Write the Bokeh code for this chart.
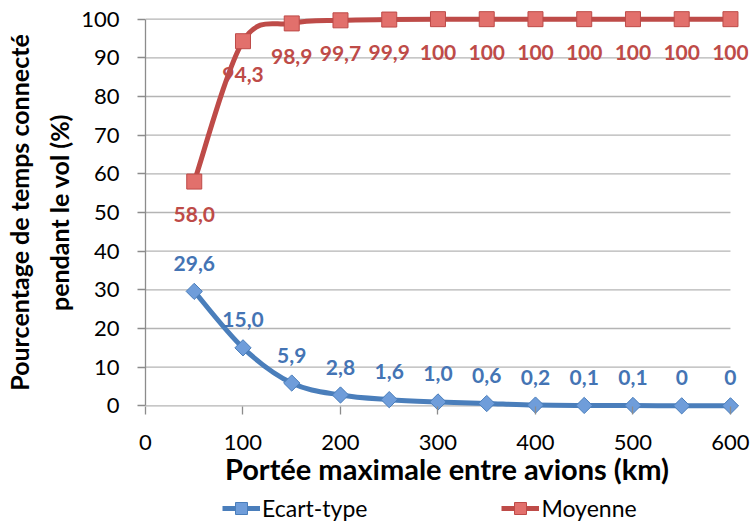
import math
from bokeh.plotting import figure
from bokeh.layouts import column
from bokeh.models import (Range1d, FixedTicker, ColumnDataSource, LabelSet,
                          Legend, LegendItem)
from bokeh.core.properties import value
from bokeh.embed import file_html
from bokeh.resources import INLINE

# ---------------- data ----------------
portee = [50, 100, 150, 200, 250, 300, 350, 400, 450, 500, 550, 600]
ecart_type = [29.6, 15.0, 5.9, 2.8, 1.6, 1.0, 0.6, 0.2, 0.1, 0.1, 0.0, 0.0]
ecart_labels = ["29,6", "15,0", "5,9", "2,8", "1,6", "1,0", "0,6", "0,2",
                "0,1", "0,1", "0", "0"]
moyenne = [58.0, 94.3, 98.9, 99.7, 99.9, 100, 100, 100, 100, 100, 100, 100]
moyenne_labels = ["58,0", "94,3", "98,9", "99,7", "99,9", "100", "100",
                  "100", "100", "100", "100", "100"]
x_ticks = [0, 100, 200, 300, 400, 500, 600]
y_ticks = [0, 10, 20, 30, 40, 50, 60, 70, 80, 90, 100]

FONT = "Lato"
BLUE = "#4A7EBB"
BLUE_FILL = "#6F9DDA"
BLUE_TXT = "#4474B4"
RED = "#BE4B48"
RED_FILL = "#E2706C"
RED_TXT = "#BE4B48"
GRID = "#B4B4B4"
AXIS = "#8C8C8C"


def smooth_segments(xs, ys, t=1.0 / 6.0):
    """Bezier control points (Excel-like smoothed line) built from the data."""
    n = len(xs)
    d = dict(x0=[], y0=[], x1=[], y1=[], cx0=[], cy0=[], cx1=[], cy1=[])
    for i in range(n - 1):
        ip = max(i - 1, 0)
        inn = min(i + 2, n - 1)
        d["x0"].append(xs[i]); d["y0"].append(ys[i])
        d["x1"].append(xs[i + 1]); d["y1"].append(ys[i + 1])
        d["cx0"].append(xs[i] + (xs[i + 1] - xs[ip]) * t)
        d["cy0"].append(ys[i] + (ys[i + 1] - ys[ip]) * t)
        d["cx1"].append(xs[i + 1] - (xs[inn] - xs[i]) * t)
        d["cy1"].append(ys[i + 1] - (ys[inn] - ys[i]) * t)
    return ColumnDataSource(d)


p = figure(frame_width=603, frame_height=406,
           x_range=Range1d(0, 618.5), y_range=Range1d(-2.5, 102.5),
           output_backend="svg", toolbar_location=None,
           min_border_left=145, min_border_top=9, min_border_right=2,
           min_border_bottom=79)
p.outline_line_color = None
p.background_fill_color = "white"
p.xgrid.grid_line_color = None
p.ygrid.grid_line_color = None

# horizontal gridlines spanning the x-axis tick domain
p.segment(x0=x_ticks[0], x1=x_ticks[-1], y0=y_ticks, y1=y_ticks,
          line_color=GRID, line_width=1.3)

# axes
p.xaxis.ticker = FixedTicker(ticks=x_ticks)
p.yaxis.ticker = FixedTicker(ticks=y_ticks)
p.xaxis.minor_tick_line_color = None
p.yaxis.minor_tick_line_color = None

p.yaxis.bounds = (0, 100)
p.yaxis.axis_line_color = AXIS
p.yaxis.axis_line_width = 1.3
p.yaxis.major_tick_line_color = AXIS
p.yaxis.major_tick_line_width = 1.3
p.yaxis.major_tick_in = 0
p.yaxis.major_tick_out = 8
p.yaxis.major_label_standoff = 18
p.yaxis.major_label_text_font = FONT
p.yaxis.major_label_text_font_size = "22px"
p.yaxis.major_label_text_color = "black"
p.yaxis.axis_label = "Pourcentage de temps connecté\npendant le vol (%)"
p.yaxis.axis_label_text_font = FONT
p.yaxis.axis_label_text_font_style = "bold"
p.yaxis.axis_label_text_font_size = "25px"
p.yaxis.axis_label_text_color = "black"
p.yaxis.axis_label_text_line_height = 1.35
p.yaxis.axis_label_standoff = 4

p.xaxis.axis_line_color = None
p.xaxis.major_tick_line_color = AXIS
p.xaxis.major_tick_line_width = 1.3
p.xaxis.major_tick_in = 9
p.xaxis.major_tick_out = -1
p.xaxis.major_label_standoff = 19
p.xaxis.major_label_text_font = FONT
p.xaxis.major_label_text_font_size = "22px"
p.xaxis.major_label_text_color = "black"
p.xaxis.axis_label = "Portée maximale entre avions (km)"
p.xaxis.axis_label_text_font = FONT
p.xaxis.axis_label_text_font_style = "bold"
p.xaxis.axis_label_text_font_size = "29px"
p.xaxis.axis_label_text_color = "black"
p.xaxis.axis_label_standoff = -2

# series
src_e = ColumnDataSource(dict(x=portee, y=ecart_type, lab=ecart_labels))
src_m = ColumnDataSource(dict(x=portee, y=moyenne, lab=moyenne_labels))

p.bezier(x0="x0", y0="y0", x1="x1", y1="y1", cx0="cx0", cy0="cy0",
         cx1="cx1", cy1="cy1", source=smooth_segments(portee, ecart_type),
         line_color=BLUE, line_width=5, line_cap="round")
p.bezier(x0="x0", y0="y0", x1="x1", y1="y1", cx0="cx0", cy0="cy0",
         cx1="cx1", cy1="cy1", source=smooth_segments(portee, moyenne),
         line_color=RED, line_width=5, line_cap="round")

p.scatter("x", "y", source=src_e, marker="square", angle=math.pi / 4,
          size=11.5, fill_color=BLUE_FILL, line_color=BLUE, line_width=1)
p.scatter("x", "y", source=src_m, marker="square", size=15,
          fill_color=RED_FILL, line_color=RED, line_width=1)

p.add_layout(LabelSet(x="x", y="y", text="lab", source=src_e, y_offset=28,
                      text_align="center", text_baseline="middle",
                      text_font=value(FONT), text_font_style="bold",
                      text_font_size="21px", text_color=BLUE_TXT))
p.add_layout(LabelSet(x="x", y="y", text="lab", source=src_m, y_offset=-33,
                      text_align="center", text_baseline="middle",
                      text_font=value(FONT), text_font_style="bold",
                      text_font_size="21px", text_color=RED_TXT))

# ---------------- legend strip below the chart ----------------
lf = figure(width=750, height=30, x_range=Range1d(0, 1), y_range=Range1d(0, 1),
            x_axis_type=None, y_axis_type=None, toolbar_location=None,
            output_backend="svg", min_border=0)
lf.outline_line_color = None
# same series, outside this strip's visible range: only used for legend glyphs
le_line = lf.line(portee, ecart_type, line_color=BLUE, line_width=5)
le_mk = lf.scatter(portee, ecart_type, marker="square", angle=math.pi / 4,
                   size=11.5, fill_color=BLUE_FILL, line_color=BLUE, line_width=1)
lm_line = lf.line(portee, moyenne, line_color=RED, line_width=5)
lm_mk = lf.scatter(portee, moyenne, marker="square", size=15,
                   fill_color=RED_FILL, line_color=RED, line_width=1)

legend = Legend(items=[LegendItem(label="Ecart-type", renderers=[le_line, le_mk]),
                       LegendItem(label="Moyenne", renderers=[lm_line, lm_mk])],
                orientation="horizontal", location=(77, 1),
                label_text_font=FONT, label_text_font_size="23px",
                label_text_color="black", glyph_width=38, glyph_height=30,
                label_standoff=2, spacing=134, padding=0, margin=0,
                border_line_color=None, background_fill_alpha=0)
lf.add_layout(legend)

layout = column(p, lf, spacing=0)
open("out.html", "w").write(file_html(layout, INLINE))
